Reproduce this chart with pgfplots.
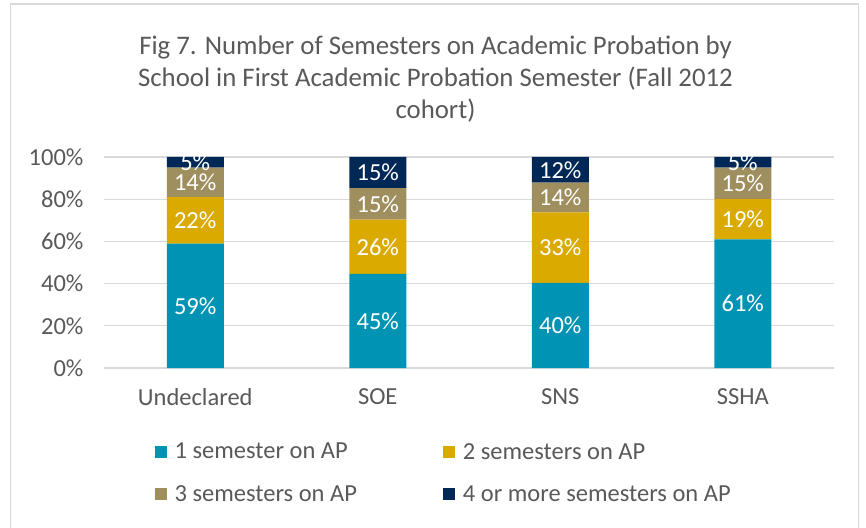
\documentclass[border=0pt]{standalone}
\usepackage{fontspec}
\setmainfont{Carlito}
\usepackage{pgfplots}
\pgfplotsset{compat=1.18}
\definecolor{c1}{HTML}{0093B3}
\definecolor{c2}{HTML}{DBAA00}
\definecolor{c3}{HTML}{A08F5E}
\definecolor{c4}{HTML}{002856}
\definecolor{txt}{HTML}{595959}
\definecolor{gridc}{HTML}{D9D9D9}
\begin{document}
\begin{tikzpicture}
\useasboundingbox (0pt,0pt) rectangle (866pt,527pt);
\draw[gridc, line width=1.5pt] (10.5pt,-2pt) -- (10.5pt,523pt) -- (858.5pt,523pt) -- (858.5pt,-2pt);
\node[txt, align=center, font=\fontsize{26.8}{32}\selectfont] at (435.5pt,448pt) {Fig 7. Number of Semesters on Academic Probation by\\ School in First Academic Probation Semester (Fall 2012\\ cohort)};
\begin{axis}[
  at={(104pt,159pt)}, anchor=south west,
  scale only axis, width=730pt, height=211pt,
  xmin=-0.5, xmax=3.5, ymin=0, ymax=100,
  ybar stacked, bar width=57pt,
  axis line style={draw=none},
  tick style={draw=none},
  ymajorgrids, major grid style={gridc, line width=1.2pt},
  ytick={0,20,40,60,80,100},
  yticklabels={0\%,20\%,40\%,60\%,80\%,100\%},
  xtick={0,1,2,3},
  xticklabels={Undeclared,SOE,SNS,SSHA},
  ticklabel style={font=\fontsize{24.5}{29}\selectfont, text=txt},
  xticklabel style={yshift=-17pt},
  yticklabel style={xshift=-17pt},
  point meta=rawy,
  nodes near coords={\pgfmathprintnumber[fixed,precision=0,assume math mode=true]{\pgfplotspointmeta}\%},
  every node near coord/.append style={white, font=\fontsize{24.5}{29}\selectfont, anchor=center},
  legend columns=2,
  legend cell align=left,
  legend style={draw=none, fill=none, inner sep=0pt, font=\fontsize{24.5}{29}\selectfont, text=txt,
    at={(axis description cs:0.069,-0.355)}, anchor=north west,
    nodes={inner sep=0pt},
    row sep=25pt,
    /tikz/every odd column/.append style={column sep=8pt},
    /tikz/every even column/.append style={column sep=86pt}},
  legend image code/.code={\fill[#1] (0pt,-6pt) rectangle (12pt,6pt);},
]
\addplot[fill=c1, draw=none] coordinates {(0,59) (1,44.6) (2,40.4) (3,61)};
\addplot[fill=c2, draw=none] coordinates {(0,22) (1,25.7) (2,33.3) (3,19)};
\addplot[fill=c3, draw=none] coordinates {(0,14) (1,14.9) (2,14.1) (3,15)};
\addplot[fill=c4, draw=none] coordinates {(0,5) (1,14.8) (2,12.2) (3,5)};
\legend{1 semester on AP, 2 semesters on AP, 3 semesters on AP, 4 or more semesters on AP}
\end{axis}
\end{tikzpicture}
\end{document}
